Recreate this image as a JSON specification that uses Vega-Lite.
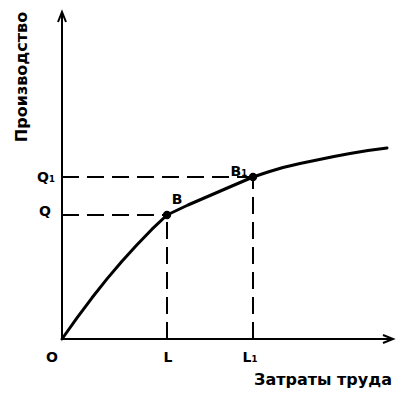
{
  "$schema": "https://vega.github.io/schema/vega-lite/v6.json",
  "width": 399,
  "height": 395,
  "padding": 0,
  "autosize": "none",
  "config": {"view": {"stroke": null}, "background": "white"},
  "datasets": {
    "axes": [
      {"g": "yaxis", "o": 0, "x": 0, "y": 0},
      {"g": "yaxis", "o": 1, "x": 0, "y": 327},
      {"g": "xaxis", "o": 0, "x": 0, "y": 0},
      {"g": "xaxis", "o": 1, "x": 331, "y": 0},
      {"g": "yarrow", "o": 0, "x": -4, "y": 317},
      {"g": "yarrow", "o": 1, "x": 0, "y": 327},
      {"g": "yarrow", "o": 2, "x": 4, "y": 317},
      {"g": "xarrow", "o": 0, "x": 321, "y": 4},
      {"g": "xarrow", "o": 1, "x": 331, "y": 0},
      {"g": "xarrow", "o": 2, "x": 321, "y": -4}
    ],
    "guides": [
      {"g": "Q", "o": 0, "x": 0, "y": 124},
      {"g": "Q", "o": 1, "x": 105, "y": 124},
      {"g": "Q1", "o": 0, "x": 0, "y": 162},
      {"g": "Q1", "o": 1, "x": 191, "y": 162},
      {"g": "L", "o": 0, "x": 105, "y": 0},
      {"g": "L", "o": 1, "x": 105, "y": 124},
      {"g": "L1", "o": 0, "x": 191, "y": 0},
      {"g": "L1", "o": 1, "x": 191, "y": 162}
    ],
    "curve": [
      {"x": 0, "y": 0},
      {"x": 15, "y": 21.2},
      {"x": 30, "y": 41.2},
      {"x": 45, "y": 60.1},
      {"x": 60, "y": 77.8},
      {"x": 75, "y": 94.3},
      {"x": 90, "y": 109.8},
      {"x": 105, "y": 124},
      {"x": 126, "y": 134},
      {"x": 148, "y": 143.5},
      {"x": 170, "y": 153},
      {"x": 191, "y": 162},
      {"x": 206, "y": 167},
      {"x": 221, "y": 171.5},
      {"x": 238, "y": 175.5},
      {"x": 255, "y": 179},
      {"x": 272, "y": 182.5},
      {"x": 288, "y": 185.5},
      {"x": 306, "y": 188.5},
      {"x": 325, "y": 191}
    ],
    "points": [
      {"name": "B", "x": 105, "y": 124},
      {"name": "B1", "x": 191, "y": 162}
    ],
    "labels": [
      {"label": "O", "x": -10, "y": -19},
      {"label": "L", "x": 106, "y": -19},
      {"label": "L₁", "x": 188, "y": -19},
      {"label": "Q", "x": -17, "y": 127},
      {"label": "Q₁", "x": -16, "y": 161},
      {"label": "B", "x": 115, "y": 139},
      {"label": "B₁", "x": 177, "y": 167}
    ],
    "xtitle": [{"label": "Затраты труда", "x": 261, "y": -41}],
    "ytitle": [{"label": "Производство", "x": -40, "y": 262}]
  },
  "encoding": {
    "x": {"field": "x", "type": "quantitative", "scale": {"domain": [-62, 337], "nice": false, "zero": false}, "axis": null},
    "y": {"field": "y", "type": "quantitative", "scale": {"domain": [-56, 339], "nice": false, "zero": false}, "axis": null}
  },
  "layer": [
    {
      "data": {"name": "axes"},
      "mark": {"type": "line", "color": "black", "strokeWidth": 2},
      "encoding": {"detail": {"field": "g"}, "order": {"field": "o"}}
    },
    {
      "data": {"name": "guides"},
      "mark": {"type": "line", "color": "black", "strokeWidth": 2, "strokeDash": [17, 8]},
      "encoding": {"detail": {"field": "g"}, "order": {"field": "o"}}
    },
    {
      "data": {"name": "curve"},
      "mark": {"type": "line", "color": "black", "strokeWidth": 3, "strokeJoin": "round", "strokeCap": "round"},
      "encoding": {}
    },
    {
      "data": {"name": "points"},
      "mark": {"type": "circle", "color": "black", "opacity": 1, "size": 70},
      "encoding": {}
    },
    {
      "data": {"name": "labels"},
      "mark": {"type": "text", "font": "DejaVu Sans", "fontWeight": "bold", "fontSize": 14, "color": "black", "align": "center", "baseline": "middle"},
      "encoding": {"text": {"field": "label"}}
    },
    {
      "data": {"name": "xtitle"},
      "mark": {"type": "text", "font": "DejaVu Sans", "fontWeight": "bold", "fontSize": 16, "color": "black", "align": "center", "baseline": "middle"},
      "encoding": {"text": {"field": "label"}}
    },
    {
      "data": {"name": "ytitle"},
      "mark": {"type": "text", "font": "DejaVu Sans", "fontWeight": "bold", "fontSize": 16, "color": "black", "align": "center", "baseline": "middle", "angle": 270},
      "encoding": {"text": {"field": "label"}}
    }
  ]
}
